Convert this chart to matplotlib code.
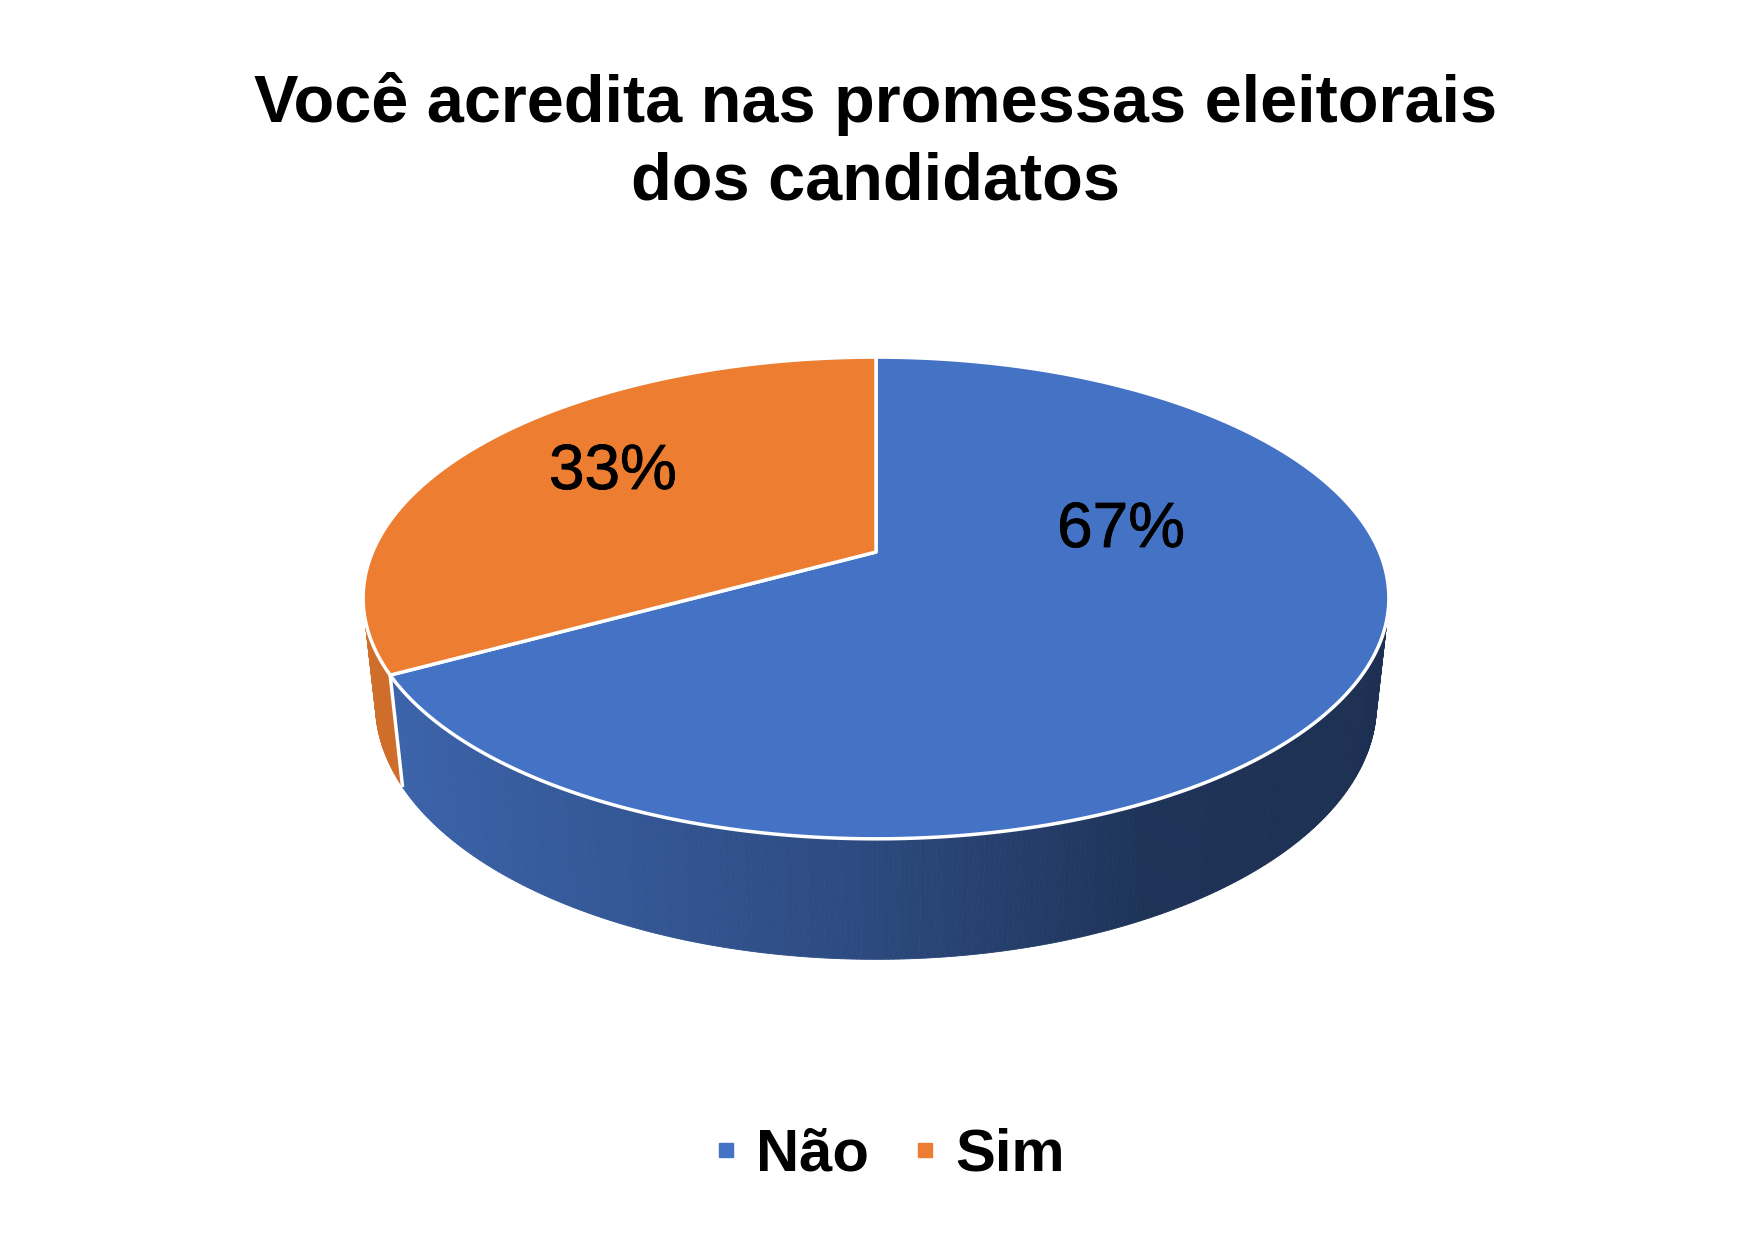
import numpy as np
import matplotlib.pyplot as plt
import matplotlib.patheffects as pe
from matplotlib.lines import Line2D
from matplotlib.patches import Polygon
from matplotlib.colors import to_rgb

plt.rcParams['font.family'] = ['Liberation Sans', 'DejaVu Sans']

# data
categories = ['Não', 'Sim']
values = [67, 33]
pct_labels = ['67%', '33%']
title_lines = ['Você acredita nas promessas eleitorais', 'dos candidatos']

colors = ['#4472C4', '#ED7D31']

# 3d view of the pie (pixel space, y downwards)
TIP_X, TIP_Y = 876, 552
SIN_P = 0.461
COS_P = np.sqrt(1 - SIN_P ** 2)
DIST = 4.65
FOCAL = 2341
DEPTH = 0.24


def project(u, v, z):
    den = DIST + v * COS_P - z * SIN_P
    x = TIP_X + FOCAL * u / den
    y = TIP_Y - FOCAL * (v * SIN_P + z * COS_P) / den
    return x, y


def shade(x):
    # darker towards the right, like the excel 3d side
    return np.interp(x, [360, 420, 600, 850, 1150, 1390],
                     [0.88, 0.855, 0.77, 0.66, 0.45, 0.42])


fig = plt.figure(figsize=(17.49, 12.41), dpi=100)
ax = fig.add_axes([0, 0, 1, 1])
ax.set_xlim(0, 1749)
ax.set_ylim(1241, 0)
ax.axis('off')

fracs = np.array(values) / np.sum(values)
bounds = np.concatenate([[0], np.cumsum(fracs)]) * 360

# side wall, only the part that faces the viewer
t_lo = np.degrees(np.arccos(-1 / (DIST * COS_P)))
t_hi = 360 - t_lo
for i in range(len(values)):
    a0 = max(bounds[i], t_lo)
    a1 = min(bounds[i + 1], t_hi)
    if a1 <= a0:
        continue
    ts = np.radians(np.linspace(a0, a1, int((a1 - a0) * 2) + 2))
    base = np.array(to_rgb(colors[i]))
    for j in range(len(ts) - 1):
        tt = ts[j:j + 2]
        xt, yt = project(np.sin(tt), np.cos(tt), 0)
        xb, yb = project(np.sin(tt), np.cos(tt), -DEPTH)
        c = base * shade(np.mean(xt))
        quad = np.column_stack([np.r_[xt, xb[::-1]], np.r_[yt, yb[::-1]]])
        ax.add_patch(Polygon(quad, closed=True, facecolor=c, edgecolor=c, lw=0.6))

# white seam on the side where the slices meet
tb = np.radians(bounds[1])
xs0, ys0 = project(np.sin(tb), np.cos(tb), 0)
xs1, ys1 = project(np.sin(tb), np.cos(tb), -DEPTH)
ax.plot([xs0, xs1], [ys0, ys1], color='white', lw=2.5, solid_capstyle='butt')

# top face
for i in range(len(values)):
    ts = np.radians(np.linspace(bounds[i], bounds[i + 1], 300))
    xa, ya = project(np.sin(ts), np.cos(ts), 0)
    pts = np.column_stack([np.r_[TIP_X, xa], np.r_[TIP_Y, ya]])
    ax.add_patch(Polygon(pts, closed=True, facecolor=colors[i],
                         edgecolor='white', lw=2.5, joinstyle='round'))

# percentage labels
label_pos = [(1121, 530), (613, 472)]
for txt, (lx, ly) in zip(pct_labels, label_pos):
    ax.text(lx, ly, txt, fontsize=46, ha='center', va='center', color='black',
            path_effects=[pe.withStroke(linewidth=0.6, foreground='black')])

# title
ax.text(876, 122, title_lines[0], fontsize=48, fontweight='bold',
        ha='center', va='baseline')
ax.text(876, 199, title_lines[1], fontsize=48, fontweight='bold',
        ha='center', va='baseline')

handles = [Line2D([], [], marker='s', linestyle='none', markersize=10.5,
                  markerfacecolor=c, markeredgecolor=c) for c in colors]
ax.legend(handles, categories, loc='center',
          bbox_to_anchor=(891 / 1749, 1 - 1155 / 1241),
          ncol=2, frameon=False, prop={'size': 43, 'weight': 'bold'},
          handlelength=0.3, handletextpad=0.35, columnspacing=0.8)

fig.savefig('out.png', dpi=100)
